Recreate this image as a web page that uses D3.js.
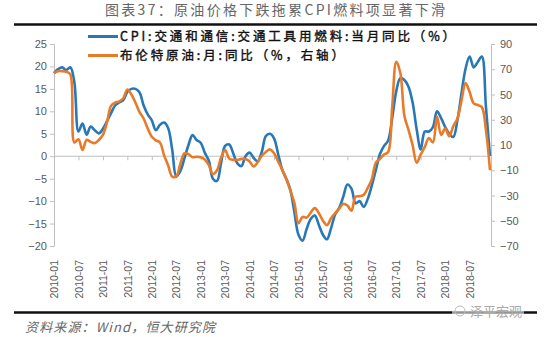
<!DOCTYPE html>
<html><head><meta charset="utf-8">
<script src="https://cdn.jsdelivr.net/npm/d3@7/dist/d3.min.js"></script>
<style>
html,body{margin:0;padding:0;background:#fff;}
svg{display:block;}
</style></head>
<body>
<svg id="chart" width="550" height="337"></svg>
<script>
// ---- data ----
const titleText = "图表37：原油价格下跌拖累CPI燃料项显著下滑";
const sourceText = "资料来源：Wind，恒大研究院";
const watermarkText = "泽平宏观";
const seriesNames = ["CPI:交通和通信:交通工具用燃料:当月同比（%）", "布伦特原油:月:同比（%，右轴）"];
const years = [2010, 2011, 2012, 2013, 2014, 2015, 2016, 2017, 2018];
const tickLabels = ["2010-01","2010-07","2011-01","2011-07","2012-01","2012-07","2013-01","2013-07",
  "2014-01","2014-07","2015-01","2015-07","2016-01","2016-07","2017-01","2017-07","2018-01","2018-07"];
const leftTicks = [-20, -15, -10, -5, 0, 5, 10, 15, 20, 25];
const rightTicks = [-70, -50, -30, -10, 10, 30, 50, 70, 90];
// CPI fuel y/y (left axis), 2010-01 .. 2018-12
const cpiFuel = [
  18.5, 19.4, 19.8, 19.2, 19.8, 16.5, 5.5, 7.3, 4.8, 6.6,
  5.8, 5.1, 6.1, 7.8, 9.6, 11.3, 12.0, 12.5, 14.3, 15.0,
  15.0, 14.2, 11.3, 9.3, 8.0, 5.8, 7.0, 7.5, 6.3, 1.5,
  -4.5, -3.3, -0.5, 2.5, 4.7, 3.6, 3.0, 0.8, -1.0, -5.0,
  -5.5, -1.5, 2.3, 2.6, 0.6, -1.6, -2.2, 0.0, 0.8, -0.4,
  -1.1, 1.0, 4.5, 5.0, 4.0, 0.5, -3.0, -5.0, -7.5, -12.5,
  -17.5, -18.8, -16.2, -14.0, -13.2, -15.3, -17.5, -18.5, -16.0, -13.0,
  -11.5, -9.0, -6.3, -7.2, -10.5, -10.0, -11.3, -9.5, -6.5, -3.0,
  0.5, 2.3, 3.5, 8.5, 14.5, 17.4, 17.0, 15.5, 12.0, 6.0,
  1.5, 5.5, 5.5, 6.5, 10.0, 8.5, 6.5, 5.0, 4.3, 8.0,
  14.0, 19.5, 22.2, 19.8, 21.0, 22.2, 11.0, 0.0
];
// Brent crude y/y (right axis), 2010-01 .. 2018-12
const brent = [
  67, 68.5, 68.5, 68, 66, 12, 14.5, 6, 14, 12.5,
  11.5, 14, 18, 28, 41, 43.5, 44.5, 47, 54, 50,
  43.5, 36, 31, 23, 16.5, 13.7, 12, 2, -6, -15,
  -15, -5, 3.3, 2.8, 0.3, 0.7, 0.3, -1.5, -6, -13,
  -10, 0, 6, -0.8, -1.8, -1.8, -1, -1, -3, -7,
  -3.5, 1.5, 4.5, 6.5, 3.5, -3, -9.5, -17, -26, -36,
  -52, -47, -47.5, -43.5, -40, -44, -50, -53.5, -48, -44,
  -40.5, -36.5, -38, -42, -31, -30.5, -29.5, -24, -17, -4,
  -1, 2.5, 4.5, 40, 76, 67, 33, 22, 10, -4,
  2.5, 8.5, 15.5, 12, 32.5, 18, 23, 17, 25, 31,
  45, 59, 52, 43, 41.7, 40, 22, -10
];
const months = [];
years.forEach(y => { for (let m = 1; m <= 12; m++) months.push(y + "-" + String(m).padStart(2, "0")); });

// ---- layout ----
const svg = d3.select("#chart");
const W = 550;
const plot = {left: 54, right: 490, top: 44, bottom: 246};
const colors = {blue: "#2878b8", orange: "#e87b2a", axis: "#bfbfbf", text: "#595959"};
const axisFont = "'Liberation Sans', Arial, sans-serif";
const cjkFont = "'Noto Sans CJK SC', 'Noto Sans', sans-serif";

const x = d3.scalePoint().domain(months).range([plot.left, plot.right]);
const yL = d3.scaleLinear().domain([-20, 25]).range([plot.bottom, plot.top]);
const yR = d3.scaleLinear().domain([-70, 90]).range([plot.bottom, plot.top]);

// title
svg.append("text").attr("x", W / 2).attr("y", 15).attr("text-anchor", "middle")
  .attr("font-family", cjkFont).attr("font-size", 14).attr("fill", "#666")
  .attr("textLength", 340).attr("lengthAdjust", "spacing").text(titleText);
svg.append("line").attr("x1", 14).attr("x2", 537).attr("y1", 24.5).attr("y2", 24.5)
  .attr("stroke", "#111").attr("stroke-width", 2.5);

// left axis
const gL = svg.append("g").attr("transform", `translate(${plot.left},0)`)
  .call(d3.axisLeft(yL).tickValues(leftTicks).tickSize(4).tickPadding(3));
// right axis
const gR = svg.append("g").attr("transform", `translate(${plot.right + 1},0)`)
  .call(d3.axisRight(yR).tickValues(rightTicks).tickSize(4).tickPadding(5));
[gL, gR].forEach(g => {
  g.select(".domain").attr("stroke", colors.axis);
  g.selectAll(".tick line").attr("stroke", colors.axis);
  g.selectAll(".tick text").attr("fill", colors.text).attr("font-family", axisFont).attr("font-size", 11);
});

// zero-line category axis with ticks
const y0 = yL(0);
const gX = svg.append("g").attr("transform", `translate(0,${y0})`)
  .call(d3.axisBottom(x).tickValues(tickLabels).tickSize(4).tickFormat(""));
gX.select(".domain").attr("stroke", colors.axis).attr("d", `M${plot.left},0H${plot.right}`);
gX.selectAll(".tick line").attr("stroke", colors.axis);

// bottom rotated labels
const gLab = svg.append("g").attr("transform", `translate(0,${plot.bottom})`)
  .call(d3.axisBottom(x).tickValues(tickLabels).tickSize(0).tickPadding(0));
gLab.select(".domain").remove();
gLab.selectAll(".tick text")
  .attr("font-family", axisFont).attr("font-size", 10.5).attr("fill", colors.text)
  .attr("transform", "rotate(-90)").attr("text-anchor", "end")
  .attr("x", -14).attr("y", 0).attr("dy", "0.35em").attr("dx", 0);

// lines
const lineL = d3.line().x((d, i) => x(months[i])).y(d => yL(d)).curve(d3.curveCatmullRom.alpha(0.5));
const lineR = d3.line().x((d, i) => x(months[i])).y(d => yR(d)).curve(d3.curveCatmullRom.alpha(0.5));
svg.append("path").datum(cpiFuel).attr("d", lineL).attr("fill", "none")
  .attr("stroke", colors.blue).attr("stroke-width", 2.6).attr("stroke-linejoin", "round");
svg.append("path").datum(brent).attr("d", lineR).attr("fill", "none")
  .attr("stroke", colors.orange).attr("stroke-width", 2.6).attr("stroke-linejoin", "round");

// legend
const legend = svg.append("g");
const legendItems = [
  {name: seriesNames[0], color: colors.blue, y: 36.5, len: 335},
  {name: seriesNames[1], color: colors.orange, y: 55.5, len: 224}
];
legendItems.forEach(it => {
  legend.append("line").attr("x1", 88).attr("x2", 118).attr("y1", it.y).attr("y2", it.y)
    .attr("stroke", it.color).attr("stroke-width", 3);
  legend.append("text").attr("x", 120).attr("y", it.y).attr("dy", "0.36em")
    .attr("font-family", cjkFont).attr("font-size", 12.5).attr("font-weight", 400)
    .attr("fill", "#111").attr("stroke", "#111").attr("stroke-width", 0.4)
    .attr("textLength", it.len).attr("lengthAdjust", "spacing").text(it.name);
});

// footer
svg.append("line").attr("x1", 14).attr("x2", 537).attr("y1", 312.5).attr("y2", 312.5)
  .attr("stroke", "#111").attr("stroke-width", 2.5);
svg.append("rect").attr("x", 452).attr("y", 304).attr("width", 72).attr("height", 16).attr("fill", "#fff").attr("opacity", 0.55);
svg.append("circle").attr("cx", 460).attr("cy", 311).attr("r", 5).attr("fill", "none").attr("stroke", "#bbb").attr("stroke-width", 1);
svg.append("text").attr("x", 470).attr("y", 316).attr("font-family", cjkFont).attr("font-size", 13)
  .attr("fill", "#aaa").text(watermarkText);
svg.append("text").attr("x", 25).attr("y", 332).attr("font-family", cjkFont).attr("font-size", 13)
  .attr("font-style", "italic").attr("fill", "#666")
  .attr("textLength", 190).attr("lengthAdjust", "spacing").text(sourceText);
</script>
</body></html>
